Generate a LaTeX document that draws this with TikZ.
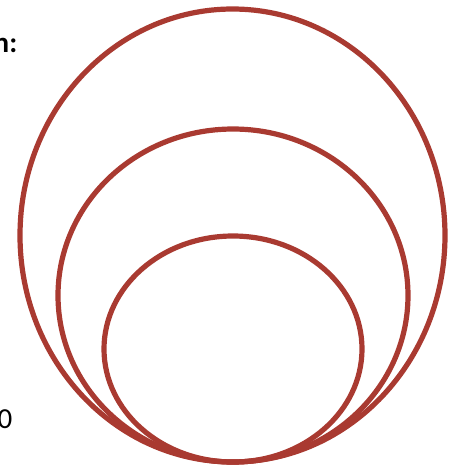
\documentclass[tikz,border=0pt]{standalone}
\usepackage{fontspec}
\setmainfont{Carlito}
\definecolor{ring}{HTML}{A93A31}
\begin{document}
\begin{tikzpicture}[x=1pt,y=-1pt,
  ringline/.style={draw=ring,line width=5.2pt},
  lbl/.style={inner sep=0pt,font=\fontsize{29}{34}\selectfont}]
\useasboundingbox (0,0) rectangle (458,467);
\draw[ringline] (232.5,235.5) ellipse [x radius=212.5, y radius=226.5];
\draw[ringline] (233,295.5) ellipse [x radius=175, y radius=166.5];
\draw[ringline] (233,349) ellipse [x radius=129, y radius=113];
\node[lbl,anchor=base east,font=\fontsize{29}{34}\selectfont\bfseries] (t1) at (17.5,52) {n:};
\node[lbl,anchor=base east] (t2) at (12.5,428) {0};
\end{tikzpicture}
\end{document}
